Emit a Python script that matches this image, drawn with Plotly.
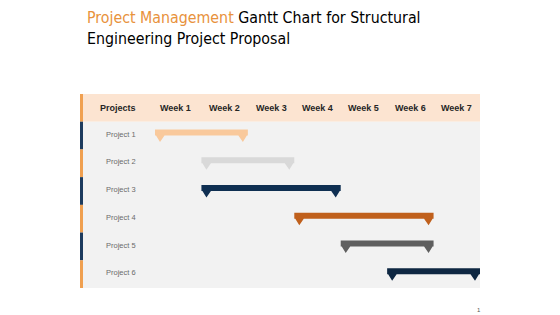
import plotly.graph_objects as go

# ---- data ----
projects = ["Project 1", "Project 2", "Project 3", "Project 4", "Project 5", "Project 6"]
weeks = ["Week 1", "Week 2", "Week 3", "Week 4", "Week 5", "Week 6", "Week 7"]
start_week = [0, 1, 1, 3, 4, 5]
end_week = [2, 3, 4, 6, 6, 7]
bar_colors = ["#F9C99C", "#D9D9D9", "#0F2F52", "#C0601C", "#5F5F5F", "#0E2742"]
accent_colors = ["#1D3B5E", "#F0A050", "#1D3B5E", "#F0A050", "#1D3B5E", "#F0A050"]

W, H = 560, 315
ML, MR, MT, MB = 80, 80, 94, 27
X0_PX = 155  # week 0 pixel
PXW = (480 - X0_PX) / 7.0
xmin = (ML - X0_PX) / PXW
PXR = (H - MT - MB) / 7.0

fig = go.Figure()

# bars with notches (polygons built from data, in axis units)
dx_in = 1 / PXW
for i, (s, e, c) in enumerate(zip(start_week, end_week, bar_colors)):
    k = i + 1
    top = k - 6.0 / PXR
    bot = k
    tip = k + 6.5 / PXR
    a1, a2, a3 = 1 * dx_in, 5 * dx_in, 9.5 * dx_in
    xs = [s, e, e, e - a1, e - a2, e - a3, s + a3, s + a2, s + a1, s, s]
    ys = [top, top, bot, bot, tip, bot, bot, tip, bot, bot, top]
    fig.add_trace(go.Scatter(x=xs, y=ys, mode="lines", fill="toself",
                             fillcolor=c, line=dict(width=0, color=c),
                             hoverinfo="skip", showlegend=False))

shapes = []
# header band
shapes.append(dict(type="rect", xref="paper", yref="y", x0=0, x1=1, y0=-0.5, y1=0.5,
                   fillcolor="#FCE4D1", line_width=0, layer="below"))
# grey body
shapes.append(dict(type="rect", xref="paper", yref="y", x0=0, x1=1, y0=0.5, y1=6.5,
                   fillcolor="#F2F2F2", line_width=0, layer="below"))
# left accent strips
shapes.append(dict(type="rect", xref="paper", yref="y", x0=0, x1=3 / 400, y0=-0.5, y1=0.5,
                   fillcolor="#F0A050", line_width=0, layer="below"))
for i, c in enumerate(accent_colors):
    shapes.append(dict(type="rect", xref="paper", yref="y", x0=0, x1=3 / 400,
                       y0=i + 0.5, y1=i + 1.5, fillcolor=c, line_width=0, layer="below"))

annotations = []
annotations.append(dict(x=(118 - X0_PX) / PXW, y=0, xref="x", yref="y", text="<b>Projects</b>",
                        showarrow=False, font=dict(family="Liberation Sans", size=9, color="#262626")))
for j, w in enumerate(weeks):
    annotations.append(dict(x=j + 0.5, y=0, xref="x", yref="y", text="<b>%s</b>" % w,
                            xshift=-3 if j == 0 else 0,
                            showarrow=False, font=dict(family="Liberation Sans", size=9, color="#262626")))
for i, p in enumerate(projects):
    annotations.append(dict(x=(104 - X0_PX) / PXW, y=i + 1 - 0.05, xref="x", yref="y", text=p,
                            xanchor="left", showarrow=False,
                            font=dict(family="Liberation Sans", size=7.5, color="#6B6B6B")))
# title
annotations.append(dict(x=(85 - ML) / 400, y=1, xref="paper", yref="paper", yanchor="top",
                        xanchor="left", align="left", showarrow=False, yshift=MT - 6,
                        text="<span style='color:#E8923C'>Project Management</span> Gantt Chart for Structural<br>Engineering Project Proposal",
                        font=dict(family="DejaVu Sans Condensed", size=15.8, color="#000000")))
# page number
annotations.append(dict(x=(483 - ML) / 400, y=0, xref="paper", yref="paper", yshift=-22,
                        yanchor="middle", text="1", showarrow=False,
                        font=dict(family="Liberation Sans", size=6, color="#555555")))

fig.update_layout(
    width=W, height=H,
    margin=dict(l=ML, r=MR, t=MT, b=MB),
    paper_bgcolor="white", plot_bgcolor="white",
    xaxis=dict(range=[xmin, 7], visible=False, fixedrange=True),
    yaxis=dict(range=[6.5, -0.5], visible=False, fixedrange=True),
    shapes=shapes, annotations=annotations, showlegend=False,
)
fig.write_html("out.html")
